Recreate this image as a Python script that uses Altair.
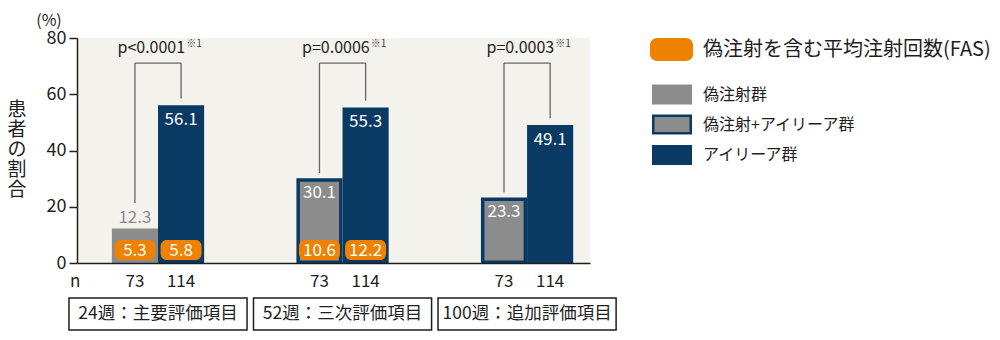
import altair as alt
import pandas as pd

# ---------------- data ----------------
periods = ["24週：主要評価項目", "52週：三次評価項目", "100週：追加評価項目"]
sham_values = [12.3, 30.1, 23.3]
eylea_values = [56.1, 55.3, 49.1]
sham_bordered = [False, True, True]          # 偽注射群 vs 偽注射+アイリーア群
sham_n = [73, 73, 73]
eylea_n = [114, 114, 114]
sham_injections = [5.3, 10.6, None]
eylea_injections = [5.8, 12.2, None]
p_labels = ["p<0.0001", "p=0.0006", "p=0.0003"]
p_notes = ["※1", "※1", "※1"]
legend_title = "偽注射を含む平均注射回数(FAS)"
legend_labels = ["偽注射群", "偽注射+アイリーア群", "アイリーア群"]
y_ticks = [0, 20, 40, 60, 80]

# ---------------- style ----------------
FONT = "Noto Sans CJK JP"
FW = "normal"
NAVY = "#083a63"
GRAY = "#8c8c8c"
ORANGE = "#ef8200"
BG = "#f4f2ec"
INK = "#1e1e1e"
BRACKET = "#666666"

HALF = 0.25      # bar width in group units
BADGE = 0.111    # half badge width in group units
BOX = 0.4825     # half period box width

groups = [1, 2, 3]

xs = alt.Scale(domain=[0.561, 3.341], nice=False, zero=False)
ys = alt.Scale(domain=[0, 80], nice=False)
xax = alt.Axis(title=None, labels=False, ticks=False, grid=False,
               domainColor=INK, domainWidth=1.5, zindex=1)
yax = alt.Axis(title=None, values=y_ticks, grid=False, tickSize=8,
               tickColor=INK, tickWidth=1.5, domainColor=INK, domainWidth=1.5,
               labelFontSize=18, labelColor=INK, labelPadding=3, labelFont=FONT,
               labelFontWeight=FW)


def X(f):
    return alt.X(f"{f}:Q", scale=xs, axis=xax)


def Y(f):
    return alt.Y(f"{f}:Q", scale=ys, axis=yax)


# bars
bars = []
for g, sv, ev, bd in zip(groups, sham_values, eylea_values, sham_bordered):
    bars.append(dict(x0=g - HALF, x1=g, v=sv, kind="sham_border" if bd else "sham"))
    bars.append(dict(x0=g, x1=g + HALF, v=ev, kind="eylea"))
bars = pd.DataFrame(bars)
bars["z"] = 0

navy_bars = alt.Chart(bars[bars.kind != "sham"]).mark_rect(color=NAVY).encode(
    x=X("x0"), x2="x1", y=Y("v"), y2="z")
gray_bars = alt.Chart(bars[bars.kind == "sham"]).mark_rect(color=GRAY).encode(
    x=X("x0"), x2="x1", y=Y("v"), y2="z")
inner_bars = alt.Chart(bars[bars.kind == "sham_border"]).mark_rect(
    color=GRAY, xOffset=3.5, x2Offset=-3.5, yOffset=3.5, y2Offset=-2.5).encode(
    x=X("x0"), x2="x1", y=Y("v"), y2="z")

# value labels
labels = []
for g, sv, ev, bd in zip(groups, sham_values, eylea_values, sham_bordered):
    labels.append(dict(x=g - HALF / 2, v=sv, t=f"{sv:.1f}", inside=bd))
    labels.append(dict(x=g + HALF / 2, v=ev, t=f"{ev:.1f}", inside=True))
labels = pd.DataFrame(labels)
lab_in = alt.Chart(labels[labels.inside]).mark_text(
    color="white", fontSize=17, baseline="middle", dy=15, font=FONT, fontWeight=FW).encode(
    x=X("x"), y=Y("v"), text="t:N")
lab_out = alt.Chart(labels[~labels.inside]).mark_text(
    color=GRAY, fontSize=17, baseline="bottom", dy=-1, font=FONT, fontWeight=FW).encode(
    x=X("x"), y=Y("v"), text="t:N")

# badges (mean number of injections)
badges = []
for g, si, ei in zip(groups, sham_injections, eylea_injections):
    if si is not None:
        badges.append(dict(x=g - HALF / 2, t=f"{si:.1f}"))
    if ei is not None:
        badges.append(dict(x=g + HALF / 2, t=f"{ei:.1f}"))
badges = pd.DataFrame(badges)
badges["x0"] = badges.x - BADGE
badges["x1"] = badges.x + BADGE
badge_rect = alt.Chart(badges).mark_rect(color=ORANGE, cornerRadius=6).encode(
    x=X("x0"), x2="x1", y=alt.value(202), y2=alt.value(222))
badge_text = alt.Chart(badges).mark_text(
    color="white", fontSize=17, baseline="middle", font=FONT, fontWeight=FW).encode(
    x=X("x"), y=alt.value(212.5), text="t:N")

# brackets
TOP = 71.1
br_v, br_h, ptxt = [], [], []
for g, sv, ev, bd, p, note in zip(groups, sham_values, eylea_values,
                                  sham_bordered, p_labels, p_notes):
    lx, rx = g - HALF / 2, g + HALF / 2
    br_v.append(dict(x=lx, y0=sv + (1.9 if bd else 9.0), y1=TOP))
    br_v.append(dict(x=rx, y0=ev + 2.4, y1=TOP))
    br_h.append(dict(x0=lx, x1=rx, y=TOP))
    ptxt.append(dict(x=g + 0.147, y=76.4, ys=77.8, t=p, n=note))
br_v, br_h, ptxt = pd.DataFrame(br_v), pd.DataFrame(br_h), pd.DataFrame(ptxt)
rule_v = alt.Chart(br_v).mark_rule(color=BRACKET, strokeWidth=1.3).encode(
    x=X("x"), y=Y("y0"), y2="y1")
rule_h = alt.Chart(br_h).mark_rule(color=BRACKET, strokeWidth=1.3).encode(
    x=X("x0"), x2="x1", y=Y("y"))
p_main = alt.Chart(ptxt).mark_text(
    color=INK, fontSize=16, align="right", baseline="middle", font=FONT, fontWeight=FW).encode(
    x=X("x"), y=Y("y"), text="t:N")
p_sup = alt.Chart(ptxt).mark_text(
    color="#444444", fontSize=10, align="left", baseline="middle", dx=1, font=FONT,
    fontWeight=FW).encode(
    x=X("x"), y=Y("ys"), text="n:N")

# n row
nrow = []
for g, a, b in zip(groups, sham_n, eylea_n):
    nrow.append(dict(x=g - HALF / 2, t=str(a)))
    nrow.append(dict(x=g + HALF / 2, t=str(b)))
nrow = pd.DataFrame(nrow)
n_text = alt.Chart(nrow).mark_text(
    color=INK, fontSize=17, baseline="middle", font=FONT, fontWeight=FW).encode(
    x=X("x"), y=alt.value(244), text="t:N")
n_head = alt.Chart(pd.DataFrame({"t": ["n"]})).mark_text(
    color=INK, fontSize=17, align="left", baseline="middle", font=FONT, fontWeight=FW).encode(
    x=alt.value(-7), y=alt.value(244), text="t:N")

# period boxes
boxes = pd.DataFrame({"g": groups, "t": periods})
boxes["x0"] = boxes.g - BOX
boxes["x1"] = boxes.g + BOX
box_rect = alt.Chart(boxes).mark_rect(fill="white", stroke=INK, strokeWidth=1.5).encode(
    x=X("x0"), x2="x1", y=alt.value(260), y2=alt.value(292))
box_text = alt.Chart(boxes).mark_text(
    color=INK, fontSize=17.5, baseline="middle", font=FONT, fontWeight=FW).encode(
    x=X("g"), y=alt.value(276), text="t:N")

# y title and unit
ytitle = alt.Chart(pd.DataFrame({"t": [list("患者の割合")]})).mark_text(
    color=INK, fontSize=19, lineHeight=20, baseline="middle", font=FONT, fontWeight=FW).encode(
    x=alt.value(-60), y=alt.value(72), text="t")
unit = alt.Chart(pd.DataFrame({"t": ["(%)"]})).mark_text(
    color=INK, fontSize=16, baseline="middle", font=FONT, fontWeight=FW).encode(
    x=alt.value(-28), y=alt.value(-17), text="t:N")

# legend (drawn manually)
leg_top = alt.Chart(pd.DataFrame({"t": [legend_title]}))
leg_orange = leg_top.mark_rect(color=ORANGE, cornerRadius=7).encode(
    x=alt.value(573), x2=alt.value(616), y=alt.value(0), y2=alt.value(23))
leg_orange_t = leg_top.mark_text(
    color=INK, fontSize=20, align="left", baseline="middle", font=FONT, fontWeight=FW).encode(
    x=alt.value(626), y=alt.value(11.5), text="t:N")

leg_df = pd.DataFrame({"t": legend_labels, "yc": [56.5, 86.5, 117],
                       "fill": [GRAY, NAVY, NAVY]})
leg_items = []
for i, row in leg_df.iterrows():
    base = alt.Chart(pd.DataFrame({"t": [row.t]}))
    leg_items.append(base.mark_rect(color=row.fill).encode(
        x=alt.value(575), x2=alt.value(615),
        y=alt.value(row.yc - 10), y2=alt.value(row.yc + 10)))
    if i == 1:
        leg_items.append(base.mark_rect(color=GRAY).encode(
            x=alt.value(577.5), x2=alt.value(612.5),
            y=alt.value(row.yc - 7.5), y2=alt.value(row.yc + 7.5)))
    leg_items.append(base.mark_text(
        color=INK, fontSize=16, align="left", baseline="middle", font=FONT,
        fontWeight=FW).encode(
        x=alt.value(626), y=alt.value(row.yc), text="t:N"))

chart = alt.layer(
    navy_bars, gray_bars, inner_bars, lab_in, lab_out,
    badge_rect, badge_text, rule_v, rule_h, p_main, p_sup,
    n_text, n_head, box_rect, box_text, ytitle, unit,
    leg_orange, leg_orange_t, *leg_items,
).properties(
    width=513, height=225,
    padding={"left": 77, "top": 38, "right": 410, "bottom": 77},
    autosize=alt.AutoSizeParams(type="none"),
).configure(font=FONT).configure_view(fill=BG, stroke=None)

chart.save("out.html", embed_options={"renderer": "svg", "actions": False})
